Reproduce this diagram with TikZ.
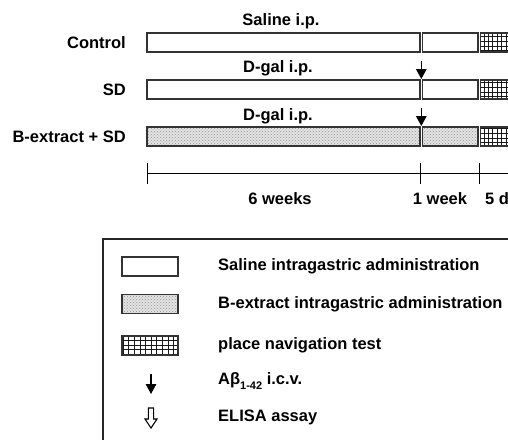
\documentclass[tikz,border=0pt]{standalone}
\usepackage{fontspec}
\setmainfont{Liberation Sans}
\usetikzlibrary{arrows.meta,patterns}
\begin{document}
\begin{tikzpicture}[x=1pt,y=-1pt,
  lbl/.style={font=\fontsize{16.5}{19}\selectfont\bfseries, inner sep=0pt},
  bar/.style={draw=black!80, line width=1.3pt},
  plainbar/.style={bar, fill=white},
  dotbar/.style={bar, preaction={fill=gray!22}, pattern=crosshatch dots, pattern color=gray!85},
  down/.style={line width=1.5pt, -{Triangle[length=10pt,width=10.5pt]}},
  tl/.style={line width=1pt, black}]
\useasboundingbox (0,0) rectangle (508,439);

% group labels
\node[lbl, anchor=east] (lc) at (126,43) {Control};
\node[lbl, anchor=east] (ls) at (126,90) {SD};
\node[lbl, anchor=east] (lb) at (126,137) {B-extract + SD};

% injection labels
\node[lbl] (t1) at (281,21) {Saline i.p.};
\node[lbl] (t2) at (278,68) {D-gal i.p.};
\node[lbl] (t3) at (278,116) {D-gal i.p.};

% bars
\foreach \ya/\yb in {33/52, 80/99} {
  \draw[plainbar] (147,\ya) rectangle (420,\yb);
  \draw[plainbar] (422.5,\ya) rectangle (478,\yb);
}
\draw[dotbar] (147,127) rectangle (420,146);
\draw[dotbar] (422.5,127) rectangle (478,146);

% grid blocks
\foreach \ya/\yb in {33/52, 80/99, 127/146} {
  \begin{scope}
    \clip (480.5,\ya) rectangle (512,\yb);
    \fill[white] (480.5,\ya) rectangle (512,\yb);
    \draw[line width=1pt, black!90, xstep=4.4pt, ystep=4.6pt] (470,\ya-10) grid (520,\yb+10);
  \end{scope}
  \draw[bar] (480.5,\ya) rectangle (515,\yb);
}

% arrows
\coordinate (a1s) at (421.3,61);
\coordinate (a1e) at (421.3,79);
\coordinate (a2s) at (421.3,108);
\coordinate (a2e) at (421.3,126);
\draw[down] (a1s) -- (a1e);
\draw[down] (a2s) -- (a2e);

% timeline
\coordinate (tl0) at (147,173);
\coordinate (tl1) at (515,173);
\draw[tl] (tl0) -- (tl1);
\foreach \x in {147,420.5,479.5} \draw[tl] (\x,163) -- (\x,184);
\node[lbl] (w6) at (280,199) {6 weeks};
\node[lbl] (w1) at (440,199) {1 week};
\node[lbl, anchor=west] (d5) at (485,199) {5 d};

% legend
\draw[line width=1.2pt, black!85] (103,239) rectangle (530,460);
\draw[plainbar] (122,257) rectangle (178,276);
\draw[dotbar] (122,294.5) rectangle (178,313.5);
\begin{scope}
  \clip (122,336) rectangle (178,355);
  \fill[white] (122,336) rectangle (178,355);
  \draw[line width=1pt, black!90, xstep=5.6pt, ystep=4.6pt] (110,330) grid (190,360);
\end{scope}
\draw[bar] (122,336) rectangle (178,355);

\coordinate (la1) at (151,374);
\coordinate (la2) at (151,394);
\draw[down] (la1) -- (la2);
\draw[line width=1.1pt, fill=white] (148.4,408) -- (153.6,408) -- (153.6,419) -- (157,419) -- (151,428) -- (145,419) -- (148.4,419) -- cycle;

\node[lbl, anchor=west] (g1) at (218,266.5) {Saline intragastric administration};
\node[lbl, anchor=west] (g2) at (218,304) {B-extract intragastric administration};
\node[lbl, anchor=west] (g3) at (218,345.5) {place navigation test};
\node[lbl, anchor=west] (g4) at (218,381) {Aβ\raisebox{-0.3em}{\fontsize{11}{11}\selectfont 1-42} i.c.v.};
\node[lbl, anchor=west] (g5) at (218,417) {ELISA assay};
\end{tikzpicture}
\end{document}
